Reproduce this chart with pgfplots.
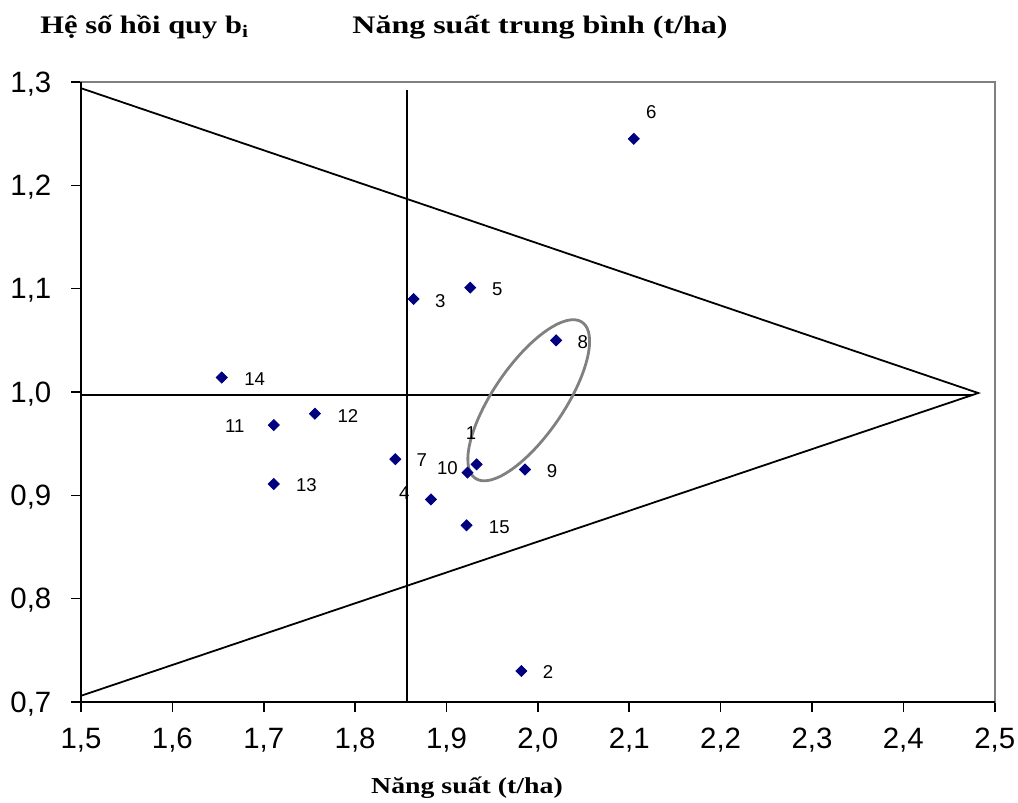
\documentclass[border=0pt]{standalone}
\usepackage{graphicx}
\usepackage{pgfplots}
\pgfplotsset{compat=1.18}
\usepackage{pgfplotstable}
\usetikzlibrary{shapes.geometric}
\usepackage{fontspec}
\setmainfont{Liberation Sans}
\newfontfamily\tnr{Liberation Serif}
\definecolor{navy}{HTML}{000080}
\pgfplotstableread{
x y lab dx dy
1.933 0.930 1 -2.85 15.65
1.982 0.730 2 13.3 -0.5
1.864 1.090 3 13.35 -0.85
1.883 0.896 4 -13.35 3
1.926 1.101 5 13.5 -0.8
2.105 1.245 6 8.7 13.65
1.844 0.935 7 13.3 -0.5
2.020 1.050 8 13.3 -0.7
1.986 0.925 9 13.5 -0.7
1.923 0.922 10 -10 2.5
1.711 0.968 11 -19.5 -0.35
1.756 0.979 12 16.5 -1.2
1.711 0.911 13 16.35 -0.7
1.654 1.014 14 16.5 -0.65
1.922 0.871 15 16.35 -0.8
}\pts
\begin{document}
\begin{tikzpicture}
\begin{axis}[
  scale only axis, width=456.85pt, height=310pt,
  xmin=1.5, xmax=2.5, ymin=0.7, ymax=1.3,
  xtick={1.5,1.6,1.7,1.8,1.9,2.0,2.1,2.2,2.3,2.4,2.5},
  ytick={0.7,0.8,0.9,1.0,1.1,1.2,1.3},
  tick align=outside, xtick pos=bottom, ytick pos=left,
  major tick length=5pt,
  every tick/.style={black, line width=0.8pt},
  axis line style={draw=gray, line width=1pt},
  ticklabel style={font=\fontsize{14.7pt}{17pt}\selectfont, inner sep=0pt, text depth=0pt},
  xticklabel style={yshift=-8pt},
  yticklabel style={xshift=-9.65pt},
  /pgf/number format/use comma,
  /pgf/number format/fixed,
  /pgf/number format/fixed zerofill,
  /pgf/number format/precision=1,
  /pgf/number format/assume math mode=true,
  clip=false,
]
\addplot[no marks, black, line width=0.9pt] coordinates {(1.5,1.294) (2.482,0.999) (1.5,0.706)};
\addplot[no marks, black, line width=0.9pt] coordinates {(1.5,0.997) (2.475,0.997)};
\addplot[no marks, black, line width=0.9pt] coordinates {(1.857,0.7) (1.857,1.292)};
\node[draw=gray, line width=1.4pt, ellipse, inner sep=0pt, minimum width=94.6pt, minimum height=35.3pt, rotate=55.6] at (axis cs:1.99,0.992) {};
\addplot[only marks, mark=square*, mark size=1.95pt, mark options={navy, rotate=45},
  point meta=explicit symbolic,
  visualization depends on={\thisrow{dx}\as\dx},
  visualization depends on={\thisrow{dy}\as\dy},
  nodes near coords,
  nodes near coords style={anchor=center, inner sep=0pt, text depth=0pt, xshift=\dx pt, yshift=\dy pt, font=\fontsize{9.3pt}{11pt}\selectfont, black}
] table[x=x, y=y, meta=lab] {\pts};
\draw[black, line width=1pt] (rel axis cs:0,1) -- (rel axis cs:0,0) -- (rel axis cs:1,0);
\end{axis}
\node[anchor=base west, inner sep=0pt] at (-20.5pt,334.25pt) {\tnr\bfseries\fontsize{12.6pt}{14pt}\selectfont\scalebox{1.21}[1]{Hệ số hồi quy b\textsubscript{i}}};
\node[anchor=base west, inner sep=0pt] at (135.5pt,334.25pt) {\tnr\bfseries\fontsize{12.6pt}{14pt}\selectfont\scalebox{1.27}[1]{Năng suất trung bình (t/ha)}};
\node[anchor=base, inner sep=0pt] at (193pt,-45.5pt) {\tnr\bfseries\fontsize{11.4pt}{14pt}\selectfont\scalebox{1.22}[1]{Năng suất (t/ha)}};
\pgfresetboundingbox
\useasboundingbox (-40.5pt,-50.5pt) rectangle (468.5pt,351pt);
\end{tikzpicture}
\end{document}
